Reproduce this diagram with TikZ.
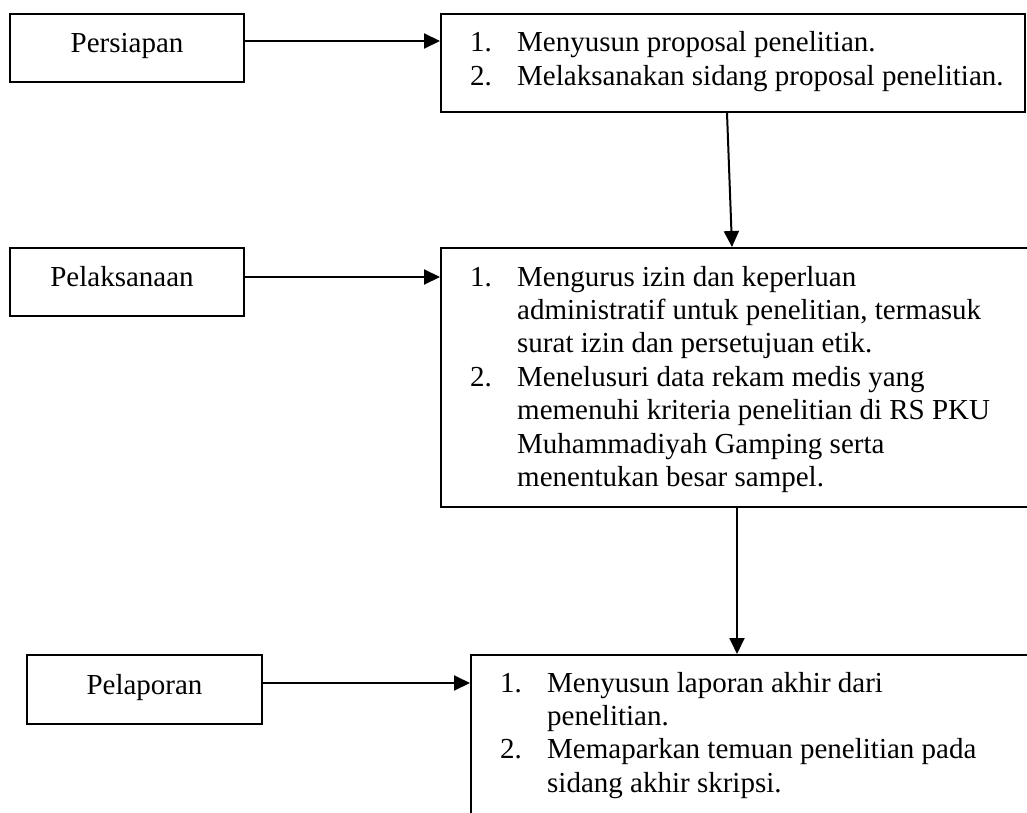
\documentclass[tikz,border=0pt]{standalone}
\usepackage{fontspec}
\setmainfont{Liberation Serif}
\usetikzlibrary{arrows.meta}
\newcommand{\bodyfont}{\fontsize{29}{33.4}\selectfont}
\begin{document}
\begin{tikzpicture}[x=1pt,y=-1pt,
  phase/.style={draw, line width=2pt, inner sep=0pt, anchor=north west,
    minimum width=234pt, minimum height=68pt, font=\bodyfont,
    text height=20pt, text depth=11pt},
  stepbox/.style={draw, line width=2pt, inner sep=0pt, anchor=north west},
  listtxt/.style={inner sep=0pt, anchor=base west, font=\bodyfont},
  arr/.style={-{Triangle[length=16pt,width=15pt]}, line width=2pt}]
\useasboundingbox (0,0) rectangle (1027,813);
\fill[white] (0,0) rectangle (1027,813);

% left phase boxes
\node[phase] (P1) at (9,13) {Persiapan};
\node[phase] (P2) at (9,247) {Pelaksanaan\hspace*{10pt}};
\node[phase, minimum width=235pt, minimum height=69pt] (P3) at (26,654) {Pelaporan};

% right step boxes
\node[stepbox, minimum width=584pt, minimum height=98pt] (S1) at (440,13) {};
\node[stepbox, minimum width=592pt, minimum height=259pt] (S2) at (440,247) {};
\node[stepbox, minimum width=562pt, minimum height=190pt] (S3) at (470,654) {};

% texts of the step boxes
\node[listtxt] (t1) at (470,52) {\begin{tabular}[t]{@{}p{47pt}@{}l@{}}
1. & Menyusun proposal penelitian.\\
2. & Melaksanakan sidang proposal penelitian.
\end{tabular}};
\node[listtxt] (t2) at (470,286) {\begin{tabular}[t]{@{}p{47pt}@{}l@{}}
1. & Mengurus izin dan keperluan\\
   & administratif untuk penelitian, termasuk\\
   & surat izin dan persetujuan etik.\\
2. & Menelusuri data rekam medis yang\\
   & memenuhi kriteria penelitian di RS PKU\\
   & Muhammadiyah Gamping serta\\
   & menentukan besar sampel.
\end{tabular}};
\node[listtxt] (t3) at (500,692) {\begin{tabular}[t]{@{}p{47pt}@{}l@{}}
1. & Menyusun laporan akhir dari\\
   & penelitian.\\
2. & Memaparkan temuan penelitian pada\\
   & sidang akhir skripsi.
\end{tabular}};

% connector helper coordinates
\coordinate (a1) at (0,41);
\coordinate (a2) at (0,277);
\coordinate (a3) at (0,683);
\coordinate (v1a) at (727,0);
\coordinate (v1b) at (732,0);
\coordinate (v2) at (737,0);

% connectors
\draw[arr] (P1.east |- a1) -- (S1.west |- a1);
\draw[arr] (P2.east |- a2) -- (S2.west |- a2);
\draw[arr] (P3.east |- a3) -- (S3.west |- a3);
\draw[arr] (S1.south -| v1a) -- (S2.north -| v1b);
\draw[arr] (S2.south -| v2) -- (S3.north -| v2);
\end{tikzpicture}
\end{document}
